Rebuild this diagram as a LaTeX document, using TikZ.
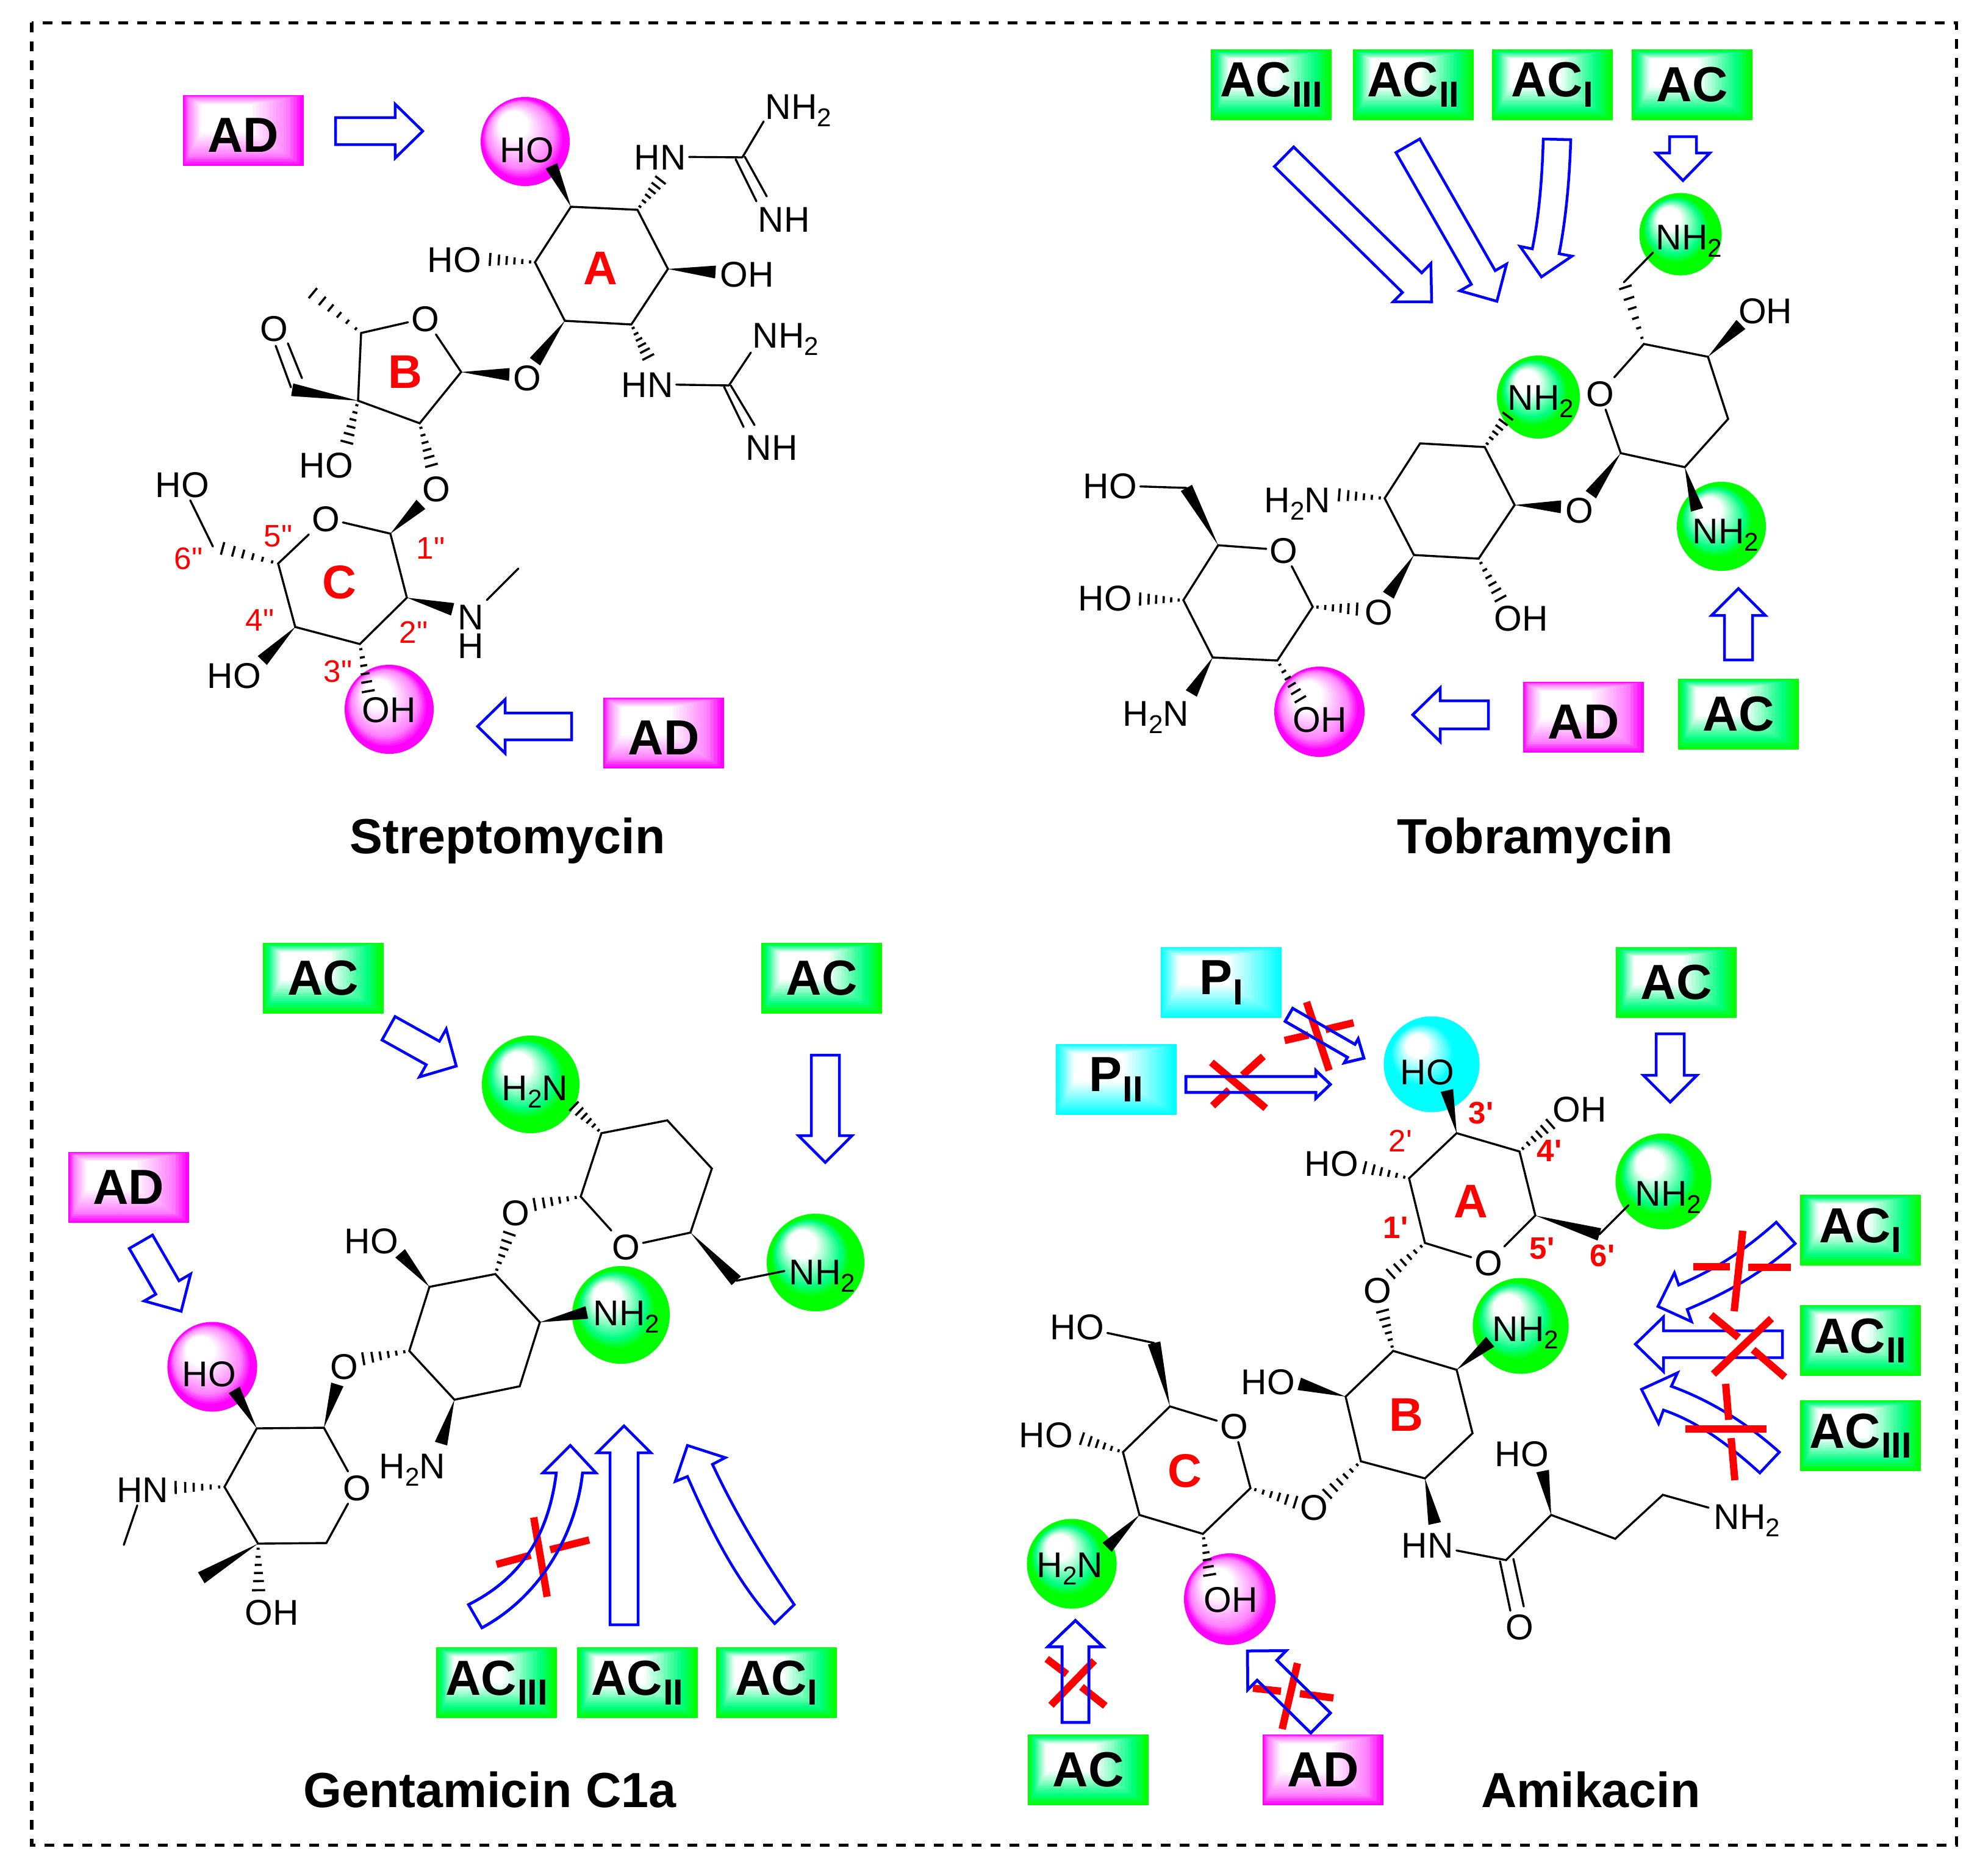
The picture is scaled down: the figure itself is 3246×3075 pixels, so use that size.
\documentclass[tikz,border=0pt]{standalone}
\usepackage{fontspec}
\setmainfont{Liberation Sans}[Ligatures=TeXOff]
\usepackage{tikz}
\usetikzlibrary{calc}
\definecolor{acgreen}{rgb}{0,1,0}
\definecolor{admagenta}{rgb}{1,0,1}
\definecolor{paqua}{rgb}{0,1,1}
\definecolor{springmid}{rgb}{0,1,0.5}
\definecolor{magentamid}{rgb}{1,0.5,1}
\definecolor{aquamid}{rgb}{0.3,1,1}
% Box fill in nested rectangles
\newcommand{\boxramp}[2]{
  \foreach \i in {0,...,17}{
    \pgfmathsetmacro{\t}{\i/17}
    \pgfmathtruncatemacro{\mixa}{min(100,\t*400)}
    \pgfmathtruncatemacro{\mixb}{min(100,max(0,(\t-0.25)*154))}
    \colorlet{rampmid}{#2!\mixa!#1}
    \colorlet{rampcol}{white!\mixb!rampmid}
    \fill[rampcol] ($(path picture bounding box.north west)+(\t*0.33cm,-\t*0.17cm)$) rectangle ($(path picture bounding box.south east)+(-\t*0.95cm,\t*0.6cm)$);
  }
}
% Ball fill in nested circles
\newcommand{\ballramp}[4]{
  \foreach \i in {0,...,24}{
    \pgfmathsetmacro{\t}{\i/24}
    \pgfmathtruncatemacro{\mixa}{min(100,\t*500)}
    \pgfmathtruncatemacro{\mixb}{min(100,max(0,(\t-0.2)*182))}
    \pgfmathsetmacro{\ringr}{#3*#4*(1-0.85*\t)}
    \pgfmathsetmacro{\ringx}{#3*(-0.55*(1-#4)*(1-\t)-0.33*\t)}
    \pgfmathsetmacro{\ringy}{#3*(0.55*(1-#4)*(1-\t)+0.45*\t)}
    \colorlet{rampmid}{#2!\mixa!#1}
    \colorlet{rampcol}{white!\mixb!rampmid}
    \fill[rampcol] ($(path picture bounding box.center)+(\ringx cm,\ringy cm)$) circle[radius=\ringr cm];
  }
}
\newcommand{\boxsub}[1]{\kern0.3pt\raisebox{-4.7pt}{\fontsize{17}{17}\selectfont #1}}
\newcommand{\atomsub}[1]{\raisebox{-3.4pt}{\fontsize{12}{12}\selectfont #1}}
\newcommand{\wedgebond}[2]{\fill ($(#2)!0.105cm!90:(#1)$) -- (#1) -- ($(#2)!0.105cm!-90:(#1)$) -- cycle;}
\newcommand{\hashbond}[2]{
  \foreach \t in {0.1,0.26,0.42,0.58,0.74,0.92}{
    \pgfmathsetmacro{\hw}{0.015+\t*0.1}
    \draw[hashline] ($(#1)!\t!(#2)!\hw cm!90:(#1)$) -- ($(#1)!\t!(#2)!\hw cm!-90:(#1)$);
  }
}
\newcommand{\arrowshape}[6][blockarrow]{
  \draw[#1] ($(#2)!#4cm!90:(#3)$) -- ($(#3)!#6cm!(#2)!#4cm!-90:(#2)$) -- ($(#3)!#6cm!(#2)!#5cm!-90:(#2)$) -- (#3)
    -- ($(#3)!#6cm!(#2)!#5cm!90:(#2)$) -- ($(#3)!#6cm!(#2)!#4cm!90:(#2)$) -- ($(#2)!#4cm!-90:(#3)$) -- cycle;
}
\tikzset{
  bond/.style={line width=0.034cm, line cap=round},
  hashline/.style={line width=0.036cm},
  blockarrow/.style={draw=blue, fill=white, line width=0.045cm, line join=miter},
  arrowline/.style={draw=blue, line width=0.045cm, line join=miter},
  crossbar/.style={draw=red, line width=0.12cm},
  atom/.style={inner sep=0pt, outer sep=1.5pt, text height=12pt, text depth=0pt, font=\fontsize{16.7}{18}\selectfont},
  ringname/.style={inner sep=0pt, text=red, font=\fontsize{22}{24}\selectfont\bfseries},
  posnum/.style={inner sep=0pt, text=red, font=\fontsize{14.5}{16}\selectfont},
  posbold/.style={inner sep=0pt, text=red, font=\fontsize{14.5}{16}\selectfont\bfseries},
  drugname/.style={inner sep=0pt, text height=16.5pt, text depth=0pt, font=\fontsize{23}{25}\selectfont\bfseries},
  labelbox/.style={rectangle, inner sep=0pt, minimum width=1.98cm, minimum height=1.16cm, font=\fontsize{23}{25}\selectfont\bfseries},
  acbox/.style={labelbox, path picture={\boxramp{acgreen}{springmid}}},
  adbox/.style={labelbox, path picture={\boxramp{admagenta}{magentamid}}},
  pbox/.style={labelbox, path picture={\boxramp{paqua}{aquamid}}},
  adlow/.style={text height=20pt, text depth=0pt},
  ballbase/.style={circle, inner sep=0pt, outer sep=0pt},
  acball/.style={ballbase, fill=acgreen, minimum size=#1cm, path picture={\ballramp{acgreen}{springmid}{#1/2}{0.82}}},
  adball/.style={ballbase, fill=admagenta, minimum size=#1cm, path picture={\ballramp{admagenta}{magentamid}{#1/2}{0.92}}},
  pball/.style={ballbase, fill=paqua, minimum size=#1cm, path picture={\ballramp{paqua}{aquamid}{#1/2}{0.66}}}
}
\begin{document}
\begin{tikzpicture}[x=0.01cm, y=-0.01cm]
\useasboundingbox (0,0) rectangle (3246,3075);

% Frame
\coordinate (frameA) at (52,37);
\coordinate (frameB) at (3207,3025);
\draw[line width=0.05cm, dash pattern=on 0.16cm off 0.15cm] (frameA) rectangle (frameB);

%%%%% Streptomycin %%%%%
\node[adball=1.46] (sBallHo) at (861,232) {};
\node[adball=1.46] (sBallOh) at (638,1163) {};

% Ring A
\coordinate (sA1) at (936,339); \coordinate (sA2) at (1045,344); \coordinate (sA3) at (1095,441);
\coordinate (sA4) at (1035,532); \coordinate (sA5) at (926,526); \coordinate (sA6) at (877,430);
\draw[bond] (sA1) -- (sA2) -- (sA3) -- (sA4) -- (sA5) -- (sA6) -- cycle;
\node[ringname] (sNameA) at (984,440) {A};
\node[atom] (sHoA) at (864,245) {HO};
\coordinate (sA1w) at (904,272);
\wedgebond{sA1}{sA1w}
\node[atom] (sHnTop) at (1082,257) {HN};
\coordinate (sA2h) at (1086,291);
\hashbond{sA2}{sA2h}
\coordinate (sGuanA) at (1217,258);
\draw[bond] (sHnTop) -- (sGuanA);
\node[atom] (sNh2Top) at (1309,174) {NH\atomsub{2}};
\coordinate (sGuanAe) at (1252,199);
\draw[bond] (sGuanA) -- (sGuanAe);
\node[atom] (sNhTop) at (1285,359) {NH};
\coordinate (sDbA) at (1206,261); \coordinate (sDbAe) at (1240,330);
\coordinate (sDbB) at (1221,257); \coordinate (sDbBe) at (1257,322);
\draw[bond] (sDbA) -- (sDbAe);
\draw[bond] (sDbB) -- (sDbBe);
\node[atom] (sOhA) at (1225,449) {OH};
\coordinate (sA3w) at (1173,446);
\wedgebond{sA3}{sA3w}
\node[atom] (sHoB) at (745,425) {HO};
\coordinate (sA6h) at (797,425);
\hashbond{sA6}{sA6h}
\node[atom] (sOLink) at (864,619) {O};
\coordinate (sA5w) at (877,593);
\wedgebond{sA5}{sA5w}
\node[atom] (sHnLow) at (1061,630) {HN};
\coordinate (sA4h) at (1065,590);
\hashbond{sA4}{sA4h}
\coordinate (sGuanB) at (1195,632);
\draw[bond] (sHnLow) -- (sGuanB);
\node[atom] (sNh2Low) at (1288,549) {NH\atomsub{2}};
\coordinate (sGuanBe) at (1231,578);
\draw[bond] (sGuanB) -- (sGuanBe);
\node[atom] (sNhLow) at (1265,733) {NH};
\coordinate (sDbC) at (1187,634); \coordinate (sDbCe) at (1219,700);
\coordinate (sDbD) at (1198,632); \coordinate (sDbDe) at (1237,697);
\draw[bond] (sDbC) -- (sDbCe);
\draw[bond] (sDbD) -- (sDbDe);

% Ring B
\coordinate (sB1) at (756,610); \coordinate (sB2) at (688,694); \coordinate (sB3) at (587,657);
\coordinate (sB4) at (592,546);
\node[atom] (sOB) at (697,522) {O};
\draw[bond] (sOB) -- (sB1) -- (sB2) -- (sB3) -- (sB4) -- (sOB);
\node[ringname] (sNameB) at (664,610) {B};
\coordinate (sB1w) at (835,614);
\wedgebond{sB1}{sB1w}
\coordinate (sB4h) at (506,475);
\hashbond{sB4}{sB4h}
\coordinate (sCho) at (479,639);
\wedgebond{sB3}{sCho}
\node[atom] (sOCho) at (449,538) {O};
\coordinate (sDbE) at (452,567); \coordinate (sDbEe) at (477,635);
\coordinate (sDbF) at (472,563); \coordinate (sDbFe) at (495,620);
\draw[bond] (sDbE) -- (sDbEe);
\draw[bond] (sDbF) -- (sDbFe);
\node[atom] (sHoC) at (535,762) {HO};
\coordinate (sB3h) at (567,731);
\hashbond{sB3}{sB3h}
\node[atom] (sOLow) at (715,801) {O};
\coordinate (sB2h) at (709,769);
\hashbond{sB2}{sB2h}

% Ring C
\coordinate (sC1) at (640,875); \coordinate (sC2) at (667,980); \coordinate (sC3) at (590,1056);
\coordinate (sC4) at (484,1028); \coordinate (sC5) at (456,924);
\node[atom] (sOC) at (534,850) {O};
\draw[bond] (sOC) -- (sC1) -- (sC2) -- (sC3) -- (sC4) -- (sC5) -- (sOC);
\node[ringname] (sNameC) at (556,955) {C};
\coordinate (sC1w) at (690,827);
\wedgebond{sC1}{sC1w}
\coordinate (sC2w) at (742,999);
\wedgebond{sC2}{sC2w}
\node[inner sep=0pt, align=center, font=\fontsize{16.7}{13.4}\selectfont] (sNH) at (772,1036) {N\\H};
\coordinate (sNe) at (798,984); \coordinate (sMe) at (850,932);
\draw[bond] (sNe) -- (sMe);
\coordinate (sC3h) at (605,1140);
\hashbond{sC3}{sC3h}
\node[atom] (sOhC) at (638,1163) {OH};
\node[atom] (sHoD) at (384,1107) {HO};
\coordinate (sC4w) at (430,1083);
\wedgebond{sC4}{sC4w}
\coordinate (sC6) at (357,897);
\hashbond{sC5}{sC6}
\node[atom] (sHoE) at (299,794) {HO};
\coordinate (sC6e) at (349,896);
\draw[bond] (sC6e) -- (sHoE);
\node[posnum] (sPos1) at (706,899) {1"};
\node[posnum] (sPos2) at (678,1037) {2"};
\node[posnum] (sPos3) at (554,1101) {3"};
\node[posnum] (sPos4) at (426,1017) {4"};
\node[posnum] (sPos5) at (456,879) {5"};
\node[posnum] (sPos6) at (309,916) {6"};

% Labels and arrows
\node[adbox, adlow] (sAdTop) at (399,214) {AD};
\node[adbox, adlow] (sAdLow) at (1088,1202) {AD};
\coordinate (sArTa) at (550,215); \coordinate (sArHa) at (693,215);
\arrowshape{sArTa}{sArHa}{0.22}{0.44}{0.45}
\coordinate (sArTb) at (937,1191); \coordinate (sArHb) at (783,1191);
\arrowshape{sArTb}{sArHb}{0.22}{0.44}{0.45}
\node[drugname] (sTitle) at (832,1370) {Streptomycin};

%%%%% Tobramycin %%%%%
\node[acball=1.35] (tBallTop) at (2755,384) {};
\node[acball=1.46] (tBallRight) at (2822,863) {};
\node[acball=1.36] (tBallMid) at (2522,651) {};
\node[adball=1.48] (tBallOh) at (2163,1167) {};

% Top ring
\coordinate (tT1) at (2695,564); \coordinate (tT2) at (2800,585); \coordinate (tT3) at (2833,687);
\coordinate (tT4) at (2762,766); \coordinate (tT5) at (2657,743);
\node[atom] (tOT) at (2623,645) {O};
\draw[bond] (tOT) -- (tT1) -- (tT2) -- (tT3) -- (tT4) -- (tT5) -- (tOT);
\coordinate (tCh2) at (2662,463); \coordinate (tCh2e) at (2710,414);
\hashbond{tT1}{tCh2}
\draw[bond] (tCh2) -- (tCh2e);
\node[atom] (tNh2Top) at (2769,388) {NH\atomsub{2}};
\coordinate (tT2w) at (2854,532);
\wedgebond{tT2}{tT2w}
\node[atom] (tOhTop) at (2894,509) {OH};
\coordinate (tT4w) at (2782,836);
\wedgebond{tT4}{tT4w}
\node[atom] (tNh2Right) at (2829,870) {NH\atomsub{2}};
\coordinate (tT5w) at (2608,811);
\wedgebond{tT5}{tT5w}
\node[atom] (tOLinkA) at (2589,836) {O};

% Middle ring
\coordinate (tM1) at (2434,733); \coordinate (tM2) at (2483,828); \coordinate (tM3) at (2424,916);
\coordinate (tM4) at (2318,910); \coordinate (tM5) at (2270,817); \coordinate (tM6) at (2328,727);
\draw[bond] (tM1) -- (tM2) -- (tM3) -- (tM4) -- (tM5) -- (tM6) -- cycle;
\coordinate (tM2w) at (2559,831);
\wedgebond{tM2}{tM2w}
\coordinate (tM1h) at (2475,678);
\hashbond{tM1}{tM1h}
\node[atom] (tNh2Mid) at (2526,651) {NH\atomsub{2}};
\coordinate (tM3h) at (2463,987);
\hashbond{tM3}{tM3h}
\node[atom] (tOhMid) at (2494,1013) {OH};
\coordinate (tM4w) at (2276,976);
\wedgebond{tM4}{tM4w}
\node[atom] (tOLinkB) at (2260,1003) {O};
\coordinate (tM5h) at (2189,811);
\hashbond{tM5}{tM5h}
\node[atom] (tH2nMid) at (2127,819) {H\atomsub{2}N};

% Lower ring
\coordinate (tL1) at (2152,995); \coordinate (tL2) at (2094,1083); \coordinate (tL3) at (1988,1078);
\coordinate (tL4) at (1940,984); \coordinate (tL5) at (1997,894);
\node[atom] (tOL) at (2104,902) {O};
\draw[bond] (tOL) -- (tL1) -- (tL2) -- (tL3) -- (tL4) -- (tL5) -- (tOL);
\coordinate (tL1h) at (2231,999);
\hashbond{tL1}{tL1h}
\coordinate (tL2h) at (2135,1152);
\hashbond{tL2}{tL2h}
\node[atom] (tOhLow) at (2164,1179) {OH};
\coordinate (tL3w) at (1953,1137);
\wedgebond{tL3}{tL3w}
\node[atom] (tH2nLow) at (1895,1169) {H\atomsub{2}N};
\coordinate (tL4h) at (1863,982);
\hashbond{tL4}{tL4h}
\node[atom] (tHoA) at (1812,980) {HO};
\coordinate (tL5w) at (1945,800);
\wedgebond{tL5}{tL5w}
\node[atom] (tHoB) at (1820,796) {HO};
\draw[bond] (tL5w) -- (tHoB);

% Labels and arrows
\node[acbox] (tAc3) at (2084,139) {AC\boxsub{III}};
\node[acbox] (tAc2) at (2317,139) {AC\boxsub{II}};
\node[acbox] (tAc1) at (2545,139) {AC\boxsub{I}};
\node[acbox] (tAc) at (2774,139) {AC};
\node[adbox, adlow] (tAd) at (2596,1176) {AD};
\node[acbox] (tAcLow) at (2850,1171) {AC};
\coordinate (tArTa) at (2105,257); \coordinate (tArHa) at (2347,495);
\arrowshape{tArTa}{tArHa}{0.225}{0.44}{0.45}
\coordinate (tArTb) at (2308,239); \coordinate (tArHb) at (2454,494);
\arrowshape{tArTb}{tArHb}{0.225}{0.44}{0.45}
\draw[blockarrow] (2530,228) .. controls (2528,300) and (2522,360) .. (2512,408) -- (2492,404) -- (2527,454) -- (2577,420) -- (2556,416) .. controls (2566,365) and (2573,300) .. (2575,229) -- cycle;
\coordinate (tArTc) at (2759,224); \coordinate (tArHc) at (2759,296);
\arrowshape{tArTc}{tArHc}{0.22}{0.44}{0.45}
\coordinate (tArTd) at (2850,1082); \coordinate (tArHd) at (2850,965);
\arrowshape{tArTd}{tArHd}{0.23}{0.44}{0.44}
\coordinate (tArTe) at (2440,1172); \coordinate (tArHe) at (2316,1172);
\arrowshape{tArTe}{tArHe}{0.23}{0.44}{0.45}
\node[drugname] (tTitle) at (2517,1370) {Tobramycin};

%%%%% Gentamicin C1a %%%%%
\node[acball=1.6] (gBallTop) at (870,1778) {};
\node[acball=1.6] (gBallRight) at (1337,2070) {};
\node[acball=1.6] (gBallMid) at (1018,2156) {};
\node[adball=1.47] (gBallHo) at (348,2241) {};

% Top ring
\coordinate (gP1) at (986,1858); \coordinate (gP2) at (1094,1837); \coordinate (gP3) at (1167,1916);
\coordinate (gP4) at (1132,2021); \coordinate (gP6) at (952,1962);
\node[atom] (gOP) at (1026,2044) {O};
\draw[bond] (gOP) -- (gP6) -- (gP1) -- (gP2) -- (gP3) -- (gP4) -- (gOP);
\coordinate (gP1h) at (937,1810);
\hashbond{gP1}{gP1h}
\node[atom] (gH2nTop) at (877,1783) {H\atomsub{2}N};
\coordinate (gP6h) at (870,1976);
\hashbond{gP6}{gP6h}
\node[atom] (gOLinkA) at (845,1988) {O};
\coordinate (gP4w) at (1207,2100); \coordinate (gP4e) at (1286,2084);
\wedgebond{gP4}{gP4w}
\draw[bond] (gP4w) -- (gP4e);
\node[atom] (gNh2Right) at (1348,2085) {NH\atomsub{2}};

% Middle ring
\coordinate (gQ1) at (812,2089); \coordinate (gQ2) at (885,2168); \coordinate (gQ3) at (852,2273);
\coordinate (gQ4) at (745,2295); \coordinate (gQ5) at (671,2215); \coordinate (gQ6) at (704,2110);
\draw[bond] (gQ1) -- (gQ2) -- (gQ3) -- (gQ4) -- (gQ5) -- (gQ6) -- cycle;
\coordinate (gQ1h) at (837,2017);
\hashbond{gQ1}{gQ1h}
\coordinate (gQ2w) at (962,2152);
\wedgebond{gQ2}{gQ2w}
\node[atom] (gNh2Mid) at (1027,2152) {NH\atomsub{2}};
\coordinate (gQ4w) at (723,2367);
\wedgebond{gQ4}{gQ4w}
\node[atom] (gH2nMid) at (676,2403) {H\atomsub{2}N};
\coordinate (gQ5h) at (589,2229);
\hashbond{gQ5}{gQ5h}
\node[atom] (gOLinkB) at (564,2240) {O};
\coordinate (gQ6w) at (656,2055);
\wedgebond{gQ6}{gQ6w}
\node[atom] (gHoMid) at (609,2034) {HO};

% Lower ring
\coordinate (gR1) at (531,2341); \coordinate (gR2) at (421,2342); \coordinate (gR3) at (368,2438);
\coordinate (gR4) at (423,2531); \coordinate (gR5) at (535,2530);
\node[atom] (gOR) at (585,2439) {O};
\draw[bond] (gOR) -- (gR1) -- (gR2) -- (gR3) -- (gR4) -- (gR5) -- (gOR);
\coordinate (gR1w) at (553,2270);
\wedgebond{gR1}{gR1w}
\coordinate (gR2w) at (384,2279);
\wedgebond{gR2}{gR2w}
\node[atom] (gHoLow) at (343,2252) {HO};
\coordinate (gR3h) at (281,2439);
\hashbond{gR3}{gR3h}
\node[atom] (gHn) at (234,2442) {HN};
\coordinate (gMeA) at (203,2533);
\draw[bond] (gHn) -- (gMeA);
\coordinate (gR4w) at (330,2587);
\wedgebond{gR4}{gR4w}
\coordinate (gR4h) at (424,2614);
\hashbond{gR4}{gR4h}
\node[atom] (gOhLow) at (446,2643) {OH};

% Labels and arrows
\node[acbox] (gAcA) at (530,1604) {AC};
\node[acbox] (gAcB) at (1347,1604) {AC};
\node[adbox] (gAd) at (211,1947) {AD};
\node[acbox] (gAc3) at (814,2759) {AC\boxsub{III}};
\node[acbox] (gAc2) at (1045,2759) {AC\boxsub{II}};
\node[acbox] (gAc1) at (1273,2759) {AC\boxsub{I}};
\coordinate (gArTa) at (637,1686); \coordinate (gArHa) at (748,1748);
\arrowshape{gArTa}{gArHa}{0.22}{0.45}{0.44}
\coordinate (gArTb) at (1353,1730); \coordinate (gArHb) at (1353,1906);
\arrowshape{gArTb}{gArHb}{0.23}{0.44}{0.44}
\coordinate (gArTc) at (231,2036); \coordinate (gArHc) at (297,2150);
\arrowshape{gArTc}{gArHc}{0.22}{0.44}{0.45}
\draw[blockarrow] (768,2631) .. controls (860,2585) and (900,2510) .. (912,2415) -- (890,2415) -- (935,2370) -- (977,2415) -- (955,2415) .. controls (945,2510) and (890,2615) .. (790,2669) -- cycle;
\coordinate (gBarAa) at (814,2565); \coordinate (gBarAb) at (870,2550);
\coordinate (gBarAc) at (902,2541); \coordinate (gBarAd) at (966,2525);
\draw[crossbar] (gBarAa) -- (gBarAb);
\draw[crossbar] (gBarAc) -- (gBarAd);
\coordinate (gBarBa) at (875,2488); \coordinate (gBarBb) at (897,2618);
\draw[crossbar] (gBarBa) -- (gBarBb);
\draw[arrowline] (768,2631) .. controls (860,2585) and (900,2510) .. (912,2415);
\draw[arrowline] (955,2415) .. controls (945,2510) and (890,2615) .. (790,2669);
\coordinate (gArTd) at (1023,2664); \coordinate (gArHd) at (1023,2338);
\arrowshape{gArTd}{gArHd}{0.23}{0.44}{0.44}
\draw[blockarrow] (1168,2401) .. controls (1205,2480) and (1250,2555) .. (1302,2631) -- (1270,2662) .. controls (1210,2595) and (1170,2520) .. (1127,2421) -- (1107,2429) -- (1127,2370) -- (1189,2390) -- cycle;
\node[drugname] (gTitle) at (803,2934) {Gentamicin C1a};

%%%%% Amikacin %%%%%
\node[pball=1.57] (kBallHo) at (2347,1745) {};
\node[acball=1.57] (kBallTop) at (2727,1937) {};
\node[acball=1.57] (kBallMid) at (2493,2174) {};
\node[adball=1.5] (kBallOh) at (2016,2622) {};
\node[acball=1.47] (kBallLow) at (1757,2564) {};

% Ring A
\coordinate (kA1) at (2336,2038); \coordinate (kA2) at (2310,1932); \coordinate (kA3) at (2388,1858);
\coordinate (kA4) at (2491,1888); \coordinate (kA5) at (2517,1993);
\node[atom] (kOA) at (2440,2070) {O};
\draw[bond] (kOA) -- (kA1) -- (kA2) -- (kA3) -- (kA4) -- (kA5) -- (kOA);
\node[ringname] (kNameA) at (2411,1970) {A};
\coordinate (kA3w) at (2372,1788);
\wedgebond{kA3}{kA3w}
\node[atom] (kHoA) at (2340,1757) {HO};
\coordinate (kA4h) at (2546,1839);
\hashbond{kA4}{kA4h}
\node[atom] (kOhA) at (2590,1818) {OH};
\coordinate (kA2h) at (2231,1913);
\hashbond{kA2}{kA2h}
\node[atom] (kHoB) at (2183,1907) {HO};
\coordinate (kA5w) at (2622,2024); \coordinate (kA5e) at (2670,1976);
\wedgebond{kA5}{kA5w}
\draw[bond] (kA5w) -- (kA5e);
\node[atom] (kNh2A) at (2735,1956) {NH\atomsub{2}};
\coordinate (kA1h) at (2275,2093);
\hashbond{kA1}{kA1h}
\node[atom] (kOLinkA) at (2258,2115) {O};
\node[posbold] (kPos3) at (2428,1825) {3'};
\node[posnum] (kPos2) at (2296,1871) {2'};
\node[posbold] (kPos4) at (2540,1887) {4'};
\node[posbold] (kPos1) at (2288,2013) {1'};
\node[posbold] (kPos5) at (2528,2047) {5'};
\node[posbold] (kPos6) at (2627,2059) {6'};

% Ring B
\coordinate (kB1) at (2284,2215); \coordinate (kB2) at (2388,2246); \coordinate (kB3) at (2414,2350);
\coordinate (kB4) at (2336,2424); \coordinate (kB5) at (2231,2396); \coordinate (kB6) at (2206,2290);
\draw[bond] (kB1) -- (kB2) -- (kB3) -- (kB4) -- (kB5) -- (kB6) -- cycle;
\node[ringname] (kNameB) at (2305,2320) {B};
\coordinate (kB1h) at (2265,2144);
\hashbond{kB1}{kB1h}
\coordinate (kB2w) at (2443,2200);
\wedgebond{kB2}{kB2w}
\node[atom] (kNh2B) at (2501,2178) {NH\atomsub{2}};
\coordinate (kB4w) at (2352,2498);
\wedgebond{kB4}{kB4w}
\node[atom] (kHn) at (2340,2533) {HN};
\coordinate (kB5h) at (2171,2454);
\hashbond{kB5}{kB5h}
\node[atom] (kOLinkB) at (2154,2471) {O};
\coordinate (kB6w) at (2130,2269);
\wedgebond{kB6}{kB6w}
\node[atom] (kHoC) at (2079,2265) {HO};

% Ring C
\coordinate (kC1) at (2050,2440); \coordinate (kC2) at (1972,2515); \coordinate (kC3) at (1868,2484);
\coordinate (kC4) at (1841,2381); \coordinate (kC5) at (1918,2306);
\node[atom] (kOC) at (2023,2338) {O};
\draw[bond] (kOC) -- (kC1) -- (kC2) -- (kC3) -- (kC4) -- (kC5) -- (kOC);
\node[ringname] (kNameC) at (1942,2412) {C};
\coordinate (kC1h) at (2130,2465);
\hashbond{kC1}{kC1h}
\coordinate (kC2h) at (1984,2588);
\hashbond{kC2}{kC2h}
\node[atom] (kOhC) at (2018,2622) {OH};
\coordinate (kC3w) at (1815,2537);
\wedgebond{kC3}{kC3w}
\node[atom] (kH2n) at (1754,2565) {H\atomsub{2}N};
\coordinate (kC4h) at (1768,2357);
\hashbond{kC4}{kC4h}
\node[atom] (kHoD) at (1715,2352) {HO};
\coordinate (kC5w) at (1892,2202);
\wedgebond{kC5}{kC5w}
\node[atom] (kHoE) at (1766,2175) {HO};
\draw[bond] (kC5w) -- (kHoE);

% Side chain
\coordinate (kAmide) at (2469,2558); \coordinate (kCa) at (2543,2484);
\coordinate (kCb) at (2648,2523); \coordinate (kCc) at (2726,2451); \coordinate (kCd) at (2801,2472);
\draw[bond] (kHn) -- (kAmide) -- (kCa) -- (kCb) -- (kCc) -- (kCd);
\coordinate (kCaw) at (2529,2412);
\wedgebond{kCa}{kCaw}
\node[atom] (kHoF) at (2495,2383) {HO};
\node[atom] (kNh2End) at (2864,2486) {NH\atomsub{2}};
\node[atom] (kOAmide) at (2491,2667) {O};
\coordinate (kDbA) at (2459,2560); \coordinate (kDbAe) at (2476,2641);
\coordinate (kDbB) at (2481,2556); \coordinate (kDbBe) at (2498,2634);
\draw[bond] (kDbA) -- (kDbAe);
\draw[bond] (kDbB) -- (kDbBe);

% Labels
\node[pbox] (kP1) at (2002,1611) {P\boxsub{I}};
\node[pbox] (kP2) at (1830,1770) {P\boxsub{II}};
\node[acbox] (kAcTop) at (2748,1611) {AC};
\node[acbox] (kAc1) at (3050,2017) {AC\boxsub{I}};
\node[acbox] (kAc2) at (3050,2198) {AC\boxsub{II}};
\node[acbox] (kAc3) at (3050,2354) {AC\boxsub{III}};
\node[acbox] (kAcLow) at (1784,2902) {AC};
\node[adbox] (kAd) at (2169,2902) {AD};
\node[drugname] (kTitle) at (2608,2934) {Amikacin};

% Arrows with crosses
\coordinate (kArTa) at (2113,1664); \coordinate (kArHa) at (2236,1735);
\coordinate (kBarAa) at (2106,1706); \coordinate (kBarAb) at (2145,1697);
\coordinate (kBarAc) at (2173,1688); \coordinate (kBarAd) at (2219,1677);
\coordinate (kBarBa) at (2142,1643); \coordinate (kBarBb) at (2179,1755);
\arrowshape{kArTa}{kArHa}{0.123}{0.227}{0.24}
\draw[crossbar] (kBarAa) -- (kBarAb);
\draw[crossbar] (kBarAc) -- (kBarAd);
\draw[crossbar] (kBarBa) -- (kBarBb);
\arrowshape[arrowline]{kArTa}{kArHa}{0.123}{0.227}{0.24}
\coordinate (kArTb) at (1944,1778); \coordinate (kArHb) at (2181,1778);
\coordinate (kBarCa) at (1988,1813); \coordinate (kBarCb) at (2015,1787);
\coordinate (kBarCc) at (2037,1763); \coordinate (kBarCd) at (2071,1732);
\coordinate (kBarDa) at (1986,1742); \coordinate (kBarDb) at (2075,1817);
\arrowshape{kArTb}{kArHb}{0.13}{0.23}{0.24}
\draw[crossbar] (kBarCa) -- (kBarCb);
\draw[crossbar] (kBarCc) -- (kBarCd);
\draw[crossbar] (kBarDa) -- (kBarDb);
\arrowshape[arrowline]{kArTb}{kArHb}{0.13}{0.23}{0.24}
\coordinate (kArTc) at (2738,1695); \coordinate (kArHc) at (2738,1807);
\arrowshape{kArTc}{kArHc}{0.23}{0.44}{0.44}
% AC I
\draw[blockarrow] (2912,2004) .. controls (2860,2050) and (2815,2080) .. (2752,2107) -- (2745,2087) -- (2718,2142) -- (2773,2167) -- (2766,2147) .. controls (2830,2120) and (2885,2090) .. (2943,2039) -- cycle;
\coordinate (kBarEa) at (2776,2077); \coordinate (kBarEb) at (2836,2077);
\coordinate (kBarEc) at (2866,2078); \coordinate (kBarEd) at (2936,2078);
\coordinate (kBarFa) at (2857,2018); \coordinate (kBarFb) at (2843,2150);
\draw[crossbar] (kBarEa) -- (kBarEb);
\draw[crossbar] (kBarEc) -- (kBarEd);
\draw[crossbar] (kBarFa) -- (kBarFb);
% AC II
\coordinate (kArTe) at (2922,2204); \coordinate (kArHe) at (2681,2204);
\coordinate (kBarGa) at (2805,2156); \coordinate (kBarGb) at (2850,2193);
\coordinate (kBarGc) at (2874,2213); \coordinate (kBarGd) at (2926,2258);
\coordinate (kBarHa) at (2809,2253); \coordinate (kBarHb) at (2904,2162);
\arrowshape{kArTe}{kArHe}{0.22}{0.447}{0.46}
\draw[crossbar] (kBarGa) -- (kBarGb);
\draw[crossbar] (kBarGc) -- (kBarGd);
\draw[crossbar] (kBarHa) -- (kBarHb);
% AC III
\draw[blockarrow] (2917,2381) .. controls (2860,2330) and (2800,2295) .. (2740,2273) -- (2750,2251) -- (2691,2278) -- (2719,2334) -- (2727,2312) .. controls (2780,2330) and (2830,2365) .. (2885,2415) -- cycle;
\coordinate (kBarIa) at (2829,2269); \coordinate (kBarIb) at (2834,2328);
\coordinate (kBarIc) at (2838,2358); \coordinate (kBarId) at (2844,2427);
\coordinate (kBarJa) at (2763,2343); \coordinate (kBarJb) at (2896,2343);
\draw[crossbar] (kBarIa) -- (kBarIb);
\draw[crossbar] (kBarIc) -- (kBarId);
\draw[crossbar] (kBarJa) -- (kBarJb);
% Lower arrows
\coordinate (kArTg) at (1763,2824); \coordinate (kArHg) at (1763,2657);
\coordinate (kBarKa) at (1716,2720); \coordinate (kBarKb) at (1749,2745);
\coordinate (kBarKc) at (1773,2766); \coordinate (kBarKd) at (1812,2797);
\coordinate (kBarLa) at (1723,2796); \coordinate (kBarLb) at (1794,2723);
\arrowshape{kArTg}{kArHg}{0.22}{0.45}{0.43}
\draw[crossbar] (kBarKa) -- (kBarKb);
\draw[crossbar] (kBarKc) -- (kBarKd);
\draw[crossbar] (kBarLa) -- (kBarLb);
\arrowshape[arrowline]{kArTg}{kArHg}{0.22}{0.45}{0.43}
\coordinate (kArTh) at (2165,2825); \coordinate (kArHh) at (2045,2707);
\coordinate (kBarMa) at (2054,2768); \coordinate (kBarMb) at (2100,2773);
\coordinate (kBarMc) at (2131,2777); \coordinate (kBarMd) at (2186,2784);
\coordinate (kBarNa) at (2127,2727); \coordinate (kBarNb) at (2102,2835);
\arrowshape{kArTh}{kArHh}{0.23}{0.45}{0.45}
\draw[crossbar] (kBarMa) -- (kBarMb);
\draw[crossbar] (kBarMc) -- (kBarMd);
\draw[crossbar] (kBarNa) -- (kBarNb);
\arrowshape[arrowline]{kArTh}{kArHh}{0.23}{0.45}{0.45}

\end{tikzpicture}
\end{document}
